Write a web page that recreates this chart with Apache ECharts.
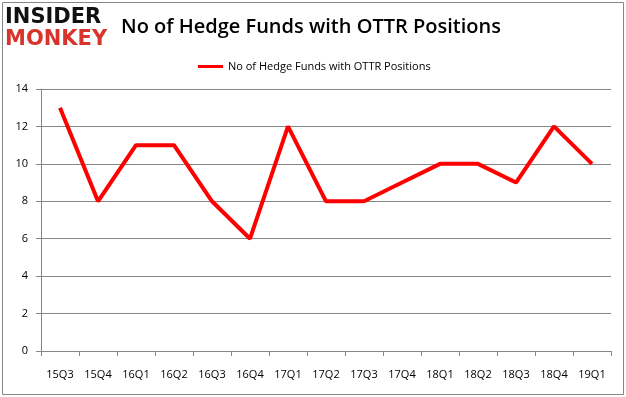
<!DOCTYPE html>
<html><head><meta charset="utf-8">
<script src="https://cdn.jsdelivr.net/npm/echarts@6/dist/echarts.min.js"></script>
<style>html,body{margin:0;padding:0;background:#fff}#c{width:626px;height:397px}</style>
</head><body><div id="c"></div>
<script>
var categories = ['15Q3','15Q4','16Q1','16Q2','16Q3','16Q4','17Q1','17Q2','17Q3','17Q4','18Q1','18Q2','18Q3','18Q4','19Q1'];
var values = [13, 8, 11, 11, 8, 6, 12, 8, 8, 9, 10, 10, 9, 12, 10];
var seriesName = 'No of Hedge Funds with OTTR Positions';
var titleText = 'No of Hedge Funds with OTTR Positions';

var chart = echarts.init(document.getElementById('c'), null, {renderer:'canvas'});
chart.setOption({
  animation: false,
  backgroundColor: '#fff',
  title: {
    text: titleText, left: 116, top: 12,
    textStyle: {fontFamily: 'Open Sans', fontSize: 20, fontWeight: 600, color: '#000'}
  },
  legend: {
    top: 56, left: 193, itemWidth: 25, itemHeight: 3, itemGap: 4,
    icon: 'rect',
    textStyle: {fontFamily: 'Open Sans', fontSize: 11, color: '#000'},
    data: [seriesName]
  },
  grid: {left: 41, right: 15, top: 89, bottom: 46},
  xAxis: {
    type: 'category', data: categories, boundaryGap: true,
    axisLine: {lineStyle: {color: '#868686'}},
    axisTick: {show: true, length: 5, lineStyle: {color: '#868686'}},
    axisLabel: {fontFamily: 'Open Sans', fontSize: 11, color: '#000', margin: 18}
  },
  yAxis: {
    type: 'value', min: 0, max: 14, interval: 2,
    axisLine: {show: true, lineStyle: {color: '#868686'}},
    axisTick: {show: true, length: 5, lineStyle: {color: '#868686'}},
    axisLabel: {fontFamily: 'Open Sans', fontSize: 11, color: '#000', margin: 13},
    splitLine: {lineStyle: {color: '#868686'}}
  },
  series: [{
    name: seriesName, type: 'line', data: values,
    symbol: 'none', lineStyle: {color: '#ff0000', width: 4}, itemStyle: {color: '#ff0000'}
  }],
  graphic: [
    {type: 'rect', shape: {x: 2.5, y: 2.5, width: 621, height: 392}, style: {fill: 'none', stroke: '#868686', lineWidth: 1}},
    {type: 'text', left: 5, top: 7, style: {text: 'INSIDER', font: '900 21px "DejaVu Sans"', fill: '#111'}},
    {type: 'text', left: 5, top: 29, style: {text: 'MONKEY', font: '900 21px "DejaVu Sans"', fill: '#d9342b'}}
  ]
});
</script></body></html>
